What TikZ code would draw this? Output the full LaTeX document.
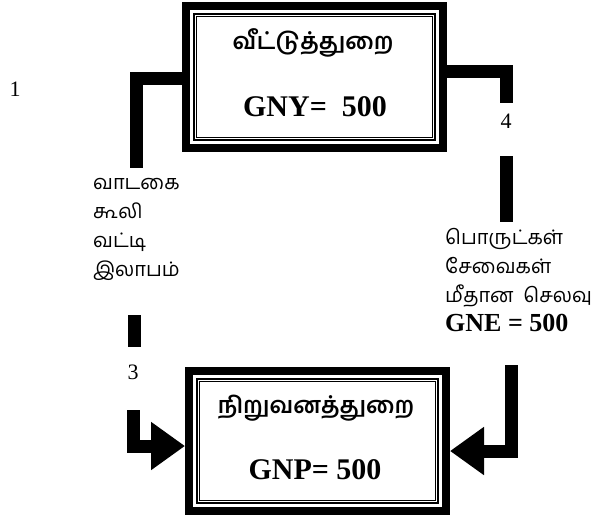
\documentclass[tikz,border=0pt]{standalone}
\usepackage{fontspec}
\setmainfont{Liberation Serif}
\newfontfamily\tamil[Script=Tamil]{Hind Madurai}
\usetikzlibrary{arrows.meta, positioning}

\begin{document}
\begin{tikzpicture}[
  x=1pt, y=-1pt,
  sector/.style={draw, line width=8pt, minimum width=257pt, inner sep=0pt},
  flow/.style={line width=13pt, line cap=butt, line join=miter},
  flowend/.style={flow, -{Triangle[length=34pt, width=46pt]}},
  ttl/.style={font=\tamil\bfseries\fontsize{23}{27}\selectfont},
  amt/.style={font=\bfseries\fontsize{30}{34}\selectfont},
  num/.style={font=\fontsize{22}{24}\selectfont},
  lbl/.style={font=\tamil\fontsize{20}{29}\selectfont, align=left,
              anchor=north west, inner sep=0pt}
]
\useasboundingbox (0,0) rectangle (596,517);

%% ---------- sectors ----------
\node[sector, minimum height=142pt] (home) at (314.5,77) {};
\node[sector, minimum height=140pt] (firm) at (317.5,441) {};

\foreach \s in {home, firm} {
  \draw[line width=2pt] ([shift={(12pt,-12pt)}]\s.north west)
    rectangle ([shift={(-12pt,12pt)}]\s.south east);
  \draw[line width=0.8pt] ([shift={(14.8pt,-14.8pt)}]\s.north west)
    rectangle ([shift={(-14.8pt,14.8pt)}]\s.south east);
}

\node[ttl] (hometitle) at (313,43)  {வீட்டுத்துறை};
\node[amt] (homeamt)   at (315,107) {GNY=\ \ 500};
\node[ttl] (firmtitle) at (316,408) {நிறுவனத்துறை};
\node[amt] (firmamt)   at (315,470) {GNP= 500};

%% ---------- factor incomes (left) ----------
\coordinate (incturn) at (136,78.5);
\coordinate (incend)  at (136,168);
\draw[flow] (home.west |- incturn) -- (incturn) -- (incend);

\coordinate (incmidA) at (134,315);
\coordinate (incmidB) at (134,347);
\draw[flow] (incmidA) -- (incmidB);

\coordinate (incstart) at (133,410);
\coordinate (incknee)  at (133,446);
\draw[flowend] (incstart) -- (incknee) -- (firm.west |- incknee);

\node[num] (one)   at (15,89)  {1};
\node[num] (three) at (133,372) {3};
\node[lbl] (inclbl) at (93,178) {வாடகை\\கூலி\\வட்டி\\இலாபம்};

%% ---------- spending (right) ----------
\coordinate (spdturn) at (506.5,71.5);
\coordinate (spdend)  at (506.5,103);
\draw[flow] (home.east |- spdturn) -- (spdturn) -- (spdend);

\coordinate (spdmidA) at (506.5,156);
\coordinate (spdmidB) at (506.5,222);
\draw[flow] (spdmidA) -- (spdmidB);

\coordinate (spdstart) at (511.5,365);
\coordinate (spdknee)  at (511.5,451);
\draw[flowend] (spdstart) -- (spdknee) -- (firm.east |- spdknee);

\node[num] (four) at (506,121) {4};
\node[lbl] (spdlbl) at (445,228)
  {பொருட்கள்\\சேவைகள்\\மீதான~~செலவு\\
   {\rmfamily\bfseries\fontsize{26}{28}\selectfont GNE = 500}};
\end{tikzpicture}
\end{document}
